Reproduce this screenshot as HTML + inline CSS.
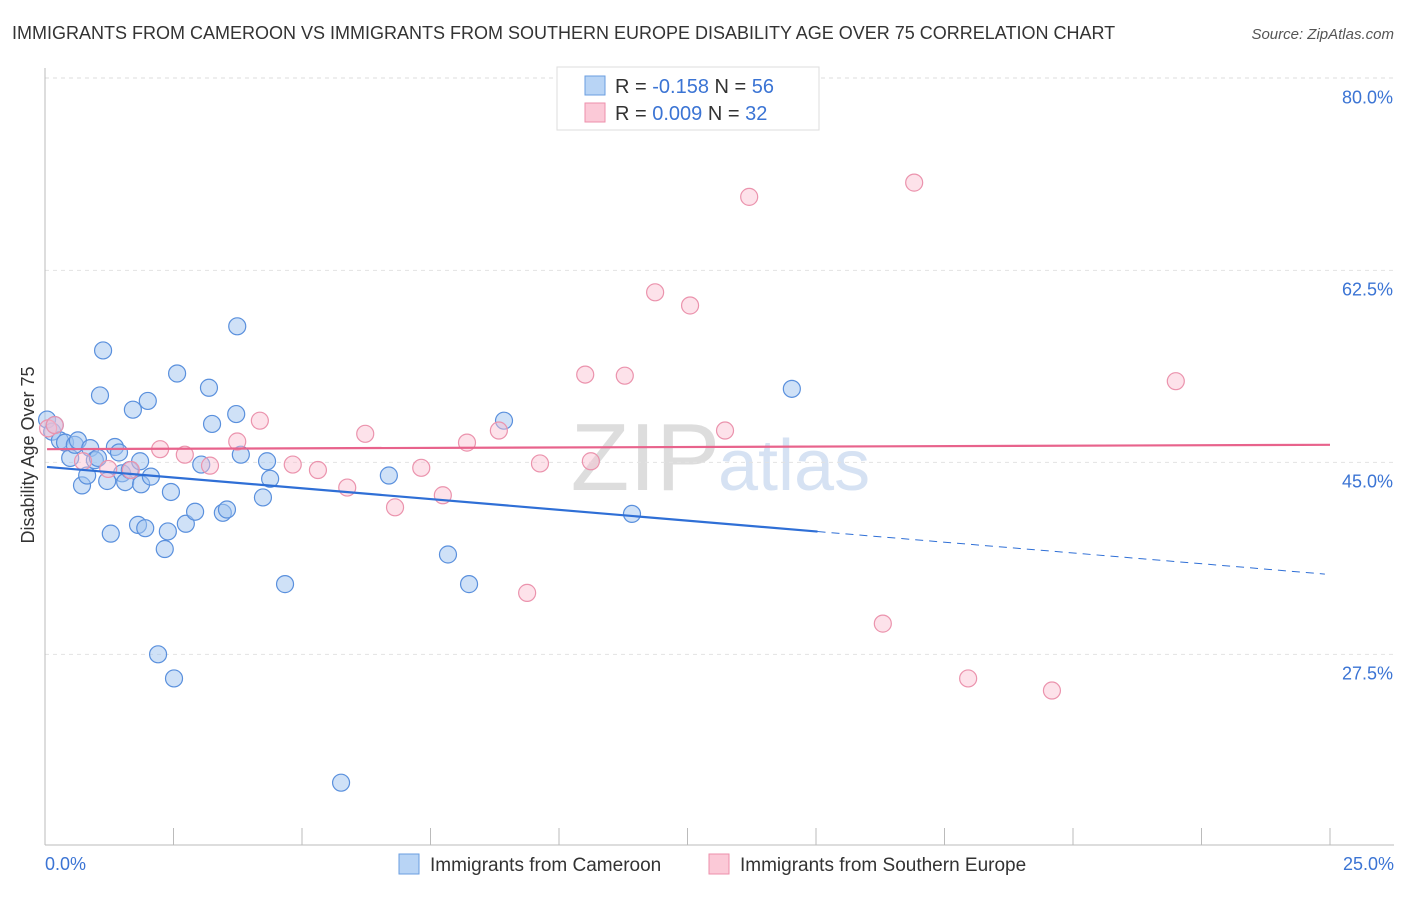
<!DOCTYPE html>
<html><head><meta charset="utf-8"><style>
body{margin:0;background:#fff;font-family:"Liberation Sans",sans-serif}
svg text{font-family:"Liberation Sans",sans-serif}
</style></head><body>
<svg id="chart" width="1406" height="892" xmlns="http://www.w3.org/2000/svg">
<text x="12" y="39" font-size="18" fill="#333">IMMIGRANTS FROM CAMEROON VS IMMIGRANTS FROM SOUTHERN EUROPE DISABILITY AGE OVER 75 CORRELATION CHART</text>
<text x="1394" y="39" font-size="15" fill="#555" font-style="italic" text-anchor="end">Source: ZipAtlas.com</text>
<text x="720" y="490" font-size="96" fill="#ddd" text-anchor="end" font-family="Liberation Serif">ZIP</text>
<text x="718" y="490" font-size="72" fill="#d6e2f3">atlas</text>
<g id="grid"></g><g id="axes"></g><g id="pts"></g><g id="trend"></g>
<text transform="translate(34,455) rotate(-90)" font-size="18" fill="#333" text-anchor="middle">Disability Age Over 75</text>
<g>
<rect x="557" y="67" width="262" height="63" fill="#fff" stroke="#ddd"/>
<rect x="585" y="76" width="20" height="19" fill="#b8d4f5" stroke="#6a9ee0"/>
<rect x="585" y="103" width="20" height="19" fill="#fbc9d7" stroke="#ee8fab"/>
<text x="615" y="93" font-size="20" fill="#333">R = <tspan fill="#3b74d4">-0.158</tspan>   N = <tspan fill="#3b74d4">56</tspan></text>
<text x="615" y="120" font-size="20" fill="#333">R = <tspan fill="#3b74d4"> 0.009</tspan>   N = <tspan fill="#3b74d4">32</tspan></text>
</g>
<g>
<rect x="399" y="854" width="20" height="20" fill="#b8d4f5" stroke="#6a9ee0"/>
<text x="430" y="871" font-size="19" fill="#333">Immigrants from Cameroon</text>
<rect x="709" y="854" width="20" height="20" fill="#fbc9d7" stroke="#ee8fab"/>
<text x="740" y="871" font-size="19" fill="#333">Immigrants from Southern Europe</text>
</g>
</svg>
<script>
const yTicks=[80.0,62.5,45.0,27.5];
const xTickLabels=["0.0%","25.0%"];
const blueX=[0.04,0.14,0.19,0.29,0.39,0.49,0.58,0.64,0.72,0.82,0.88,0.97,1.03,1.07,1.13,1.21,1.28,1.36,1.44,1.50,1.56,1.65,1.71,1.81,1.87,1.95,2.00,2.06,2.20,2.33,2.39,2.45,2.51,2.57,2.74,2.92,3.04,3.19,3.25,3.46,3.54,3.72,3.74,3.81,4.24,4.32,4.38,4.67,5.76,6.69,7.84,8.25,8.93,11.42,14.53,1.85];
const blueY=[48.9,47.8,48.4,47.0,46.8,45.4,46.6,47.0,42.9,43.8,46.3,45.2,45.4,51.1,55.2,43.3,38.5,46.4,45.9,44.0,43.2,44.3,49.8,39.3,43.0,39.0,50.6,43.7,27.5,37.1,38.7,42.3,25.3,53.1,39.4,40.5,44.8,51.8,48.5,40.4,40.7,49.4,57.4,45.7,41.8,45.1,43.5,33.9,15.8,43.8,36.6,33.9,48.8,40.3,51.7,45.1];
const pinkX=[0.06,0.19,0.74,1.23,1.67,2.24,2.72,3.21,3.74,4.18,4.82,5.31,5.88,6.23,6.81,7.32,7.74,8.21,8.83,9.38,9.63,10.51,10.62,11.28,11.87,12.55,13.23,13.70,16.30,16.91,17.96,19.59,22.00];
const pinkY=[48.1,48.4,45.1,44.4,44.3,46.2,45.7,44.7,46.9,48.8,44.8,44.3,42.7,47.6,40.9,44.5,42.0,46.8,47.9,33.1,44.9,53.0,45.1,52.9,60.5,59.3,47.9,69.2,30.3,70.5,25.3,24.2,52.4];
const blueTrend=[44.6,-0.393]; // intercept, slope
const pinkTrend=[46.2,0.016];
const NS="http://www.w3.org/2000/svg";
const X=v=>45+v*51.4, Y=v=>956-v*10.97;
function mk(p,t,a){const e=document.createElementNS(NS,t);for(const k in a)e.setAttribute(k,a[k]);document.getElementById(p).appendChild(e);return e;}
let e=mk('grid','line',{x1:45,x2:1394,y1:78,y2:78,stroke:'#ddd','stroke-dasharray':'4,4'});

yTicks.forEach(t=>{
 if(t<80){const g=mk('grid','line',{x1:45,x2:1394,y1:Y(t),y2:Y(t),stroke:'#e2e2e2','stroke-dasharray':'4,4'});
 }
 const l=mk('axes','text',{x:1393,y:Y(t)+25,'font-size':18,fill:'#3b74d4','text-anchor':'end'});
 l.textContent=t.toFixed(1)+'%';
 
});
e=mk('axes','line',{x1:45,x2:45,y1:68,y2:845,stroke:'#bbb'});

e=mk('axes','line',{x1:45,x2:1394,y1:845,y2:845,stroke:'#bbb'});

for(let i=0;i<=10;i++){const t=mk('axes','line',{x1:X(i*2.5),x2:X(i*2.5),y1:828,y2:845,stroke:'#bbb'});
 }
let xl=mk('axes','text',{x:45,y:870,'font-size':18,fill:'#3b74d4'});xl.textContent=xTickLabels[0];

xl=mk('axes','text',{x:1394,y:870,'font-size':18,fill:'#3b74d4','text-anchor':'end'});xl.textContent=xTickLabels[1];

blueX.forEach((x,i)=>{const c=mk('pts','circle',{cx:X(x),cy:Y(blueY[i]),r:8.5,fill:'rgba(160,196,240,0.5)',stroke:'#5a90dd','stroke-width':1.2});
 });
pinkX.forEach((x,i)=>{const c=mk('pts','circle',{cx:X(x),cy:Y(pinkY[i]),r:8.5,fill:'rgba(250,190,208,0.45)',stroke:'#eb93ad','stroke-width':1.2});
 });
const bf=x=>blueTrend[0]+blueTrend[1]*x, pf=x=>pinkTrend[0]+pinkTrend[1]*x;
e=mk('trend','line',{x1:X(0.04),y1:Y(bf(0.04)),x2:X(15.03),y2:Y(bf(15.03)),stroke:'#2f6fd6','stroke-width':2.2});

e=mk('trend','line',{x1:X(15.03),y1:Y(bf(15.03)),x2:X(24.9),y2:Y(bf(24.9)),stroke:'#2f6fd6','stroke-width':1,'stroke-dasharray':'8,6'});

e=mk('trend','line',{x1:X(0.04),y1:Y(pf(0.04)),x2:X(25),y2:Y(pf(25)),stroke:'#e8638c','stroke-width':2.2});

</script>
</body></html>
